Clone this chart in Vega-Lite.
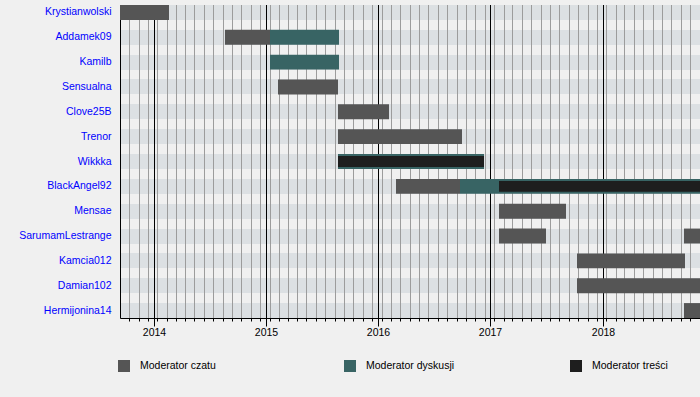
{
  "$schema": "https://vega.github.io/schema/vega-lite/v6.json",
  "width": 580,
  "height": 313,
  "autosize": {"type": "none"},
  "padding": {"left": 120, "top": 5, "right": 0, "bottom": 79},
  "background": "#f0f0f0",
  "config": {"view": {"stroke": null}, "font": "Liberation Sans"},
  "resolve": {"axis": {"x": "independent"}},
  "data": {
    "values": [
      {"name": "Krystianwolski", "role": "Moderator czatu", "start": "2013-09-13", "end": "2014-02-21"},
      {"name": "Addamek09", "role": "Moderator czatu", "start": "2014-08-22", "end": "2015-01-13"},
      {"name": "Addamek09", "role": "Moderator dyskusji", "start": "2015-01-13", "end": "2015-08-27"},
      {"name": "Kamilb", "role": "Moderator dyskusji", "start": "2015-01-13", "end": "2015-08-27"},
      {"name": "Sensualna", "role": "Moderator czatu", "start": "2015-02-10", "end": "2015-08-24"},
      {"name": "Clove25B", "role": "Moderator czatu", "start": "2015-08-22", "end": "2016-02-07"},
      {"name": "Trenor", "role": "Moderator czatu", "start": "2015-08-22", "end": "2016-10-01"},
      {"name": "Wikkka", "role": "Moderator dyskusji", "start": "2015-08-25", "end": "2016-12-11"},
      {"name": "Wikkka", "role": "Moderator treści", "start": "2015-08-25", "end": "2016-12-11"},
      {"name": "BlackAngel92", "role": "Moderator czatu", "start": "2016-03-01", "end": "2016-09-24"},
      {"name": "BlackAngel92", "role": "Moderator dyskusji", "start": "2016-09-24", "end": "2018-11-14"},
      {"name": "BlackAngel92", "role": "Moderator treści", "start": "2017-01-29", "end": "2018-11-14"},
      {"name": "Mensae", "role": "Moderator czatu", "start": "2017-01-29", "end": "2017-09-04"},
      {"name": "SarumamLestrange", "role": "Moderator czatu", "start": "2017-01-29", "end": "2017-07-01"},
      {"name": "SarumamLestrange", "role": "Moderator czatu", "start": "2018-09-24", "end": "2018-11-14"},
      {"name": "Kamcia012", "role": "Moderator czatu", "start": "2017-10-11", "end": "2018-09-26"},
      {"name": "Damian102", "role": "Moderator czatu", "start": "2017-10-11", "end": "2018-11-14"},
      {"name": "Hermijonina14", "role": "Moderator czatu", "start": "2018-09-24", "end": "2018-11-14"}
    ]
  },
  "layer": [
    {
      "data": {
        "values": [
          {"date": "2013-10-13"}, {"date": "2013-11-13"}, {"date": "2013-12-13"},
          {"date": "2014-01-13"}, {"date": "2014-02-13"}, {"date": "2014-03-13"}, {"date": "2014-04-13"}, {"date": "2014-05-13"}, {"date": "2014-06-13"},
          {"date": "2014-07-13"}, {"date": "2014-08-13"}, {"date": "2014-09-13"}, {"date": "2014-10-13"}, {"date": "2014-11-13"}, {"date": "2014-12-13"},
          {"date": "2015-01-13"}, {"date": "2015-02-13"}, {"date": "2015-03-13"}, {"date": "2015-04-13"}, {"date": "2015-05-13"}, {"date": "2015-06-13"},
          {"date": "2015-07-13"}, {"date": "2015-08-13"}, {"date": "2015-09-13"}, {"date": "2015-10-13"}, {"date": "2015-11-13"}, {"date": "2015-12-13"},
          {"date": "2016-01-13"}, {"date": "2016-02-13"}, {"date": "2016-03-13"}, {"date": "2016-04-13"}, {"date": "2016-05-13"}, {"date": "2016-06-13"},
          {"date": "2016-07-13"}, {"date": "2016-08-13"}, {"date": "2016-09-13"}, {"date": "2016-10-13"}, {"date": "2016-11-13"}, {"date": "2016-12-13"},
          {"date": "2017-01-13"}, {"date": "2017-02-13"}, {"date": "2017-03-13"}, {"date": "2017-04-13"}, {"date": "2017-05-13"}, {"date": "2017-06-13"},
          {"date": "2017-07-13"}, {"date": "2017-08-13"}, {"date": "2017-09-13"}, {"date": "2017-10-13"}, {"date": "2017-11-13"}, {"date": "2017-12-13"},
          {"date": "2018-01-13"}, {"date": "2018-02-13"}, {"date": "2018-03-13"}, {"date": "2018-04-13"}, {"date": "2018-05-13"}, {"date": "2018-06-13"},
          {"date": "2018-07-13"}, {"date": "2018-08-13"}, {"date": "2018-09-13"}, {"date": "2018-10-13"}, {"date": "2018-11-13"}
        ]
      },
      "mark": {"type": "rule", "color": "#9c9c9c", "strokeWidth": 1, "xOffset": 0.5},
      "encoding": {
        "x": {
          "field": "date",
          "type": "temporal",
          "title": null,
          "scale": {"domain": [{"year": 2013, "month": 9, "date": 13}, {"year": 2018, "month": 11, "date": 14}], "nice": false, "round": true},
          "axis": {
            "orient": "bottom",
            "values": [
              {"year": 2013, "month": 10, "date": 13}, {"year": 2013, "month": 11, "date": 13}, {"year": 2013, "month": 12, "date": 13},
              {"year": 2014, "month": 1, "date": 13}, {"year": 2014, "month": 2, "date": 13}, {"year": 2014, "month": 3, "date": 13}, {"year": 2014, "month": 4, "date": 13},
              {"year": 2014, "month": 5, "date": 13}, {"year": 2014, "month": 6, "date": 13}, {"year": 2014, "month": 7, "date": 13}, {"year": 2014, "month": 8, "date": 13},
              {"year": 2014, "month": 9, "date": 13}, {"year": 2014, "month": 10, "date": 13}, {"year": 2014, "month": 11, "date": 13}, {"year": 2014, "month": 12, "date": 13},
              {"year": 2015, "month": 1, "date": 13}, {"year": 2015, "month": 2, "date": 13}, {"year": 2015, "month": 3, "date": 13}, {"year": 2015, "month": 4, "date": 13},
              {"year": 2015, "month": 5, "date": 13}, {"year": 2015, "month": 6, "date": 13}, {"year": 2015, "month": 7, "date": 13}, {"year": 2015, "month": 8, "date": 13},
              {"year": 2015, "month": 9, "date": 13}, {"year": 2015, "month": 10, "date": 13}, {"year": 2015, "month": 11, "date": 13}, {"year": 2015, "month": 12, "date": 13},
              {"year": 2016, "month": 1, "date": 13}, {"year": 2016, "month": 2, "date": 13}, {"year": 2016, "month": 3, "date": 13}, {"year": 2016, "month": 4, "date": 13},
              {"year": 2016, "month": 5, "date": 13}, {"year": 2016, "month": 6, "date": 13}, {"year": 2016, "month": 7, "date": 13}, {"year": 2016, "month": 8, "date": 13},
              {"year": 2016, "month": 9, "date": 13}, {"year": 2016, "month": 10, "date": 13}, {"year": 2016, "month": 11, "date": 13}, {"year": 2016, "month": 12, "date": 13},
              {"year": 2017, "month": 1, "date": 13}, {"year": 2017, "month": 2, "date": 13}, {"year": 2017, "month": 3, "date": 13}, {"year": 2017, "month": 4, "date": 13},
              {"year": 2017, "month": 5, "date": 13}, {"year": 2017, "month": 6, "date": 13}, {"year": 2017, "month": 7, "date": 13}, {"year": 2017, "month": 8, "date": 13},
              {"year": 2017, "month": 9, "date": 13}, {"year": 2017, "month": 10, "date": 13}, {"year": 2017, "month": 11, "date": 13}, {"year": 2017, "month": 12, "date": 13},
              {"year": 2018, "month": 1, "date": 13}, {"year": 2018, "month": 2, "date": 13}, {"year": 2018, "month": 3, "date": 13}, {"year": 2018, "month": 4, "date": 13},
              {"year": 2018, "month": 5, "date": 13}, {"year": 2018, "month": 6, "date": 13}, {"year": 2018, "month": 7, "date": 13}, {"year": 2018, "month": 8, "date": 13},
              {"year": 2018, "month": 9, "date": 13}, {"year": 2018, "month": 10, "date": 13}, {"year": 2018, "month": 11, "date": 13}
            ],
            "grid": false,
            "domain": false,
            "labels": false,
            "tickColor": "#000000",
            "tickWidth": 1,
            "tickSize": 3
          }
        }
      }
    },
    {
      "data": {
        "values": [
          {"date": "2014-01-01"}, {"date": "2015-01-01"}, {"date": "2016-01-01"}, {"date": "2017-01-01"}, {"date": "2018-01-01"}
        ]
      },
      "mark": {"type": "rule", "color": "#000000", "strokeWidth": 1, "xOffset": 0.5},
      "encoding": {
        "x": {
          "field": "date",
          "type": "temporal",
          "title": null,
          "axis": {
            "orient": "bottom",
            "values": [
              {"year": 2014, "month": 1, "date": 1}, {"year": 2015, "month": 1, "date": 1}, {"year": 2016, "month": 1, "date": 1},
              {"year": 2017, "month": 1, "date": 1}, {"year": 2018, "month": 1, "date": 1}
            ],
            "format": "%Y",
            "grid": false,
            "domain": true,
            "domainColor": "#000000",
            "tickColor": "#000000",
            "tickWidth": 1,
            "tickSize": 8,
            "labelOverlap": false,
            "labelFlush": false,
            "labelPadding": 1,
            "labelFontSize": 10.5,
            "labelColor": "#000000",
            "labelFont": "Liberation Sans"
          }
        }
      }
    },
    {
      "transform": [{"filter": "datum.role != 'Moderator treści'"}],
      "mark": {"type": "bar"},
      "encoding": {
        "y": {
          "field": "name",
          "type": "nominal",
          "title": null,
          "scale": {
            "domain": ["Krystianwolski", "Addamek09", "Kamilb", "Sensualna", "Clove25B", "Trenor", "Wikkka", "BlackAngel92", "Mensae", "SarumamLestrange", "Kamcia012", "Damian102", "Hermijonina14"],
            "paddingInner": 0.4,
            "paddingOuter": 0
          },
          "axis": {
            "domain": true,
            "domainColor": "#000000",
            "ticks": false,
            "grid": true,
            "gridColor": "#dce0e3",
            "gridWidth": 15,
            "bandPosition": 0.5,
            "labelColor": "#0000ff",
            "labelFontSize": 10.5,
            "labelPadding": 9,
            "labelFont": "Liberation Sans"
          }
        },
        "x": {"field": "start", "type": "temporal", "title": null, "axis": null},
        "x2": {"field": "end"},
        "color": {
          "field": "role",
          "type": "nominal",
          "scale": {
            "domain": ["Moderator czatu", "Moderator dyskusji", "Moderator treści"],
            "range": ["#555555", "#386464", "#1e1e1e"]
          },
          "legend": {
            "title": null,
            "orient": "none",
            "legendX": -2,
            "legendY": 355,
            "direction": "horizontal",
            "gridAlign": "all",
            "columnPadding": 115,
            "symbolType": "square",
            "symbolSize": 144,
            "symbolStrokeWidth": 0,
            "symbolOpacity": 1,
            "labelFontSize": 10.5,
            "labelOffset": 10,
            "labelColor": "#000000",
            "labelFont": "Liberation Sans",
            "padding": 0
          }
        }
      }
    },
    {
      "transform": [{"filter": "datum.role == 'Moderator treści'"}],
      "mark": {"type": "bar", "height": {"band": 0.733}},
      "encoding": {
        "y": {"field": "name", "type": "nominal", "title": null},
        "x": {"field": "start", "type": "temporal", "title": null, "axis": null},
        "x2": {"field": "end"},
        "color": {"field": "role", "type": "nominal"}
      }
    }
  ]
}
